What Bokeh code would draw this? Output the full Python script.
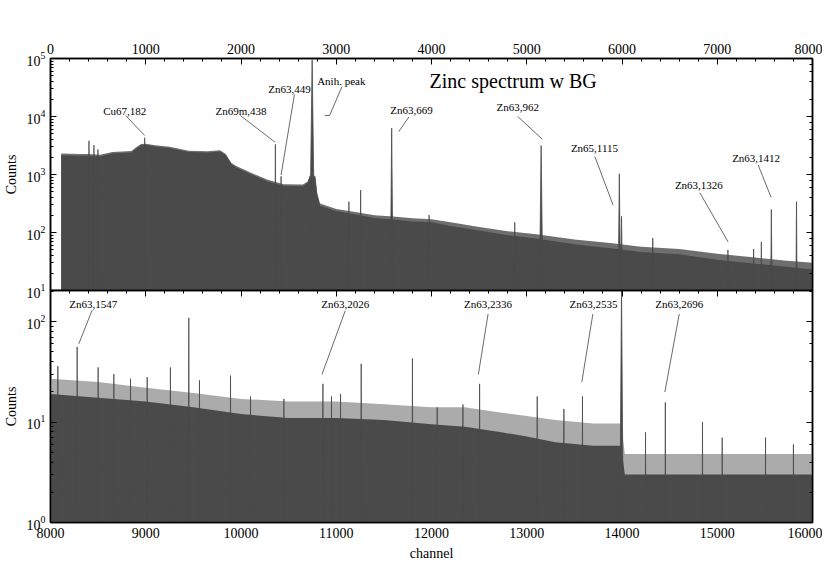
from bokeh.plotting import figure
from bokeh.models import ColumnDataSource, LogAxis, LinearAxis, SingleIntervalTicker, LogTicker
from bokeh.layouts import column
from bokeh.embed import file_html
from bokeh.resources import INLINE
from bokeh.core.properties import value

FONT = "Liberation Serif"

# ---------------- data ----------------
# top panel continuum: channel, dense level, upper noise level
top_ch = [112, 300, 400, 520, 650, 850, 900, 950, 1000, 1100, 1250, 1450, 1650, 1780, 1840,
          1900, 1950, 2100, 2280, 2450, 2650, 2700, 2720, 2780, 2800, 2830, 3000, 3200, 3400,
          3600, 3800, 4000, 4200, 4500, 4800, 5100, 5500, 5900, 6200, 6600, 7000, 7400, 7700, 8000]
top_dense = [2150, 2100, 2100, 2050, 2300, 2400, 2800, 3200, 3250, 3050, 2850, 2450, 2400, 2500, 2150,
             1500, 1320, 1020, 760, 640, 630, 720, 900, 900, 450, 290, 235, 205, 178,
             168, 155, 150, 130, 108, 90, 79, 63, 53, 46, 42, 34, 29, 26, 23]
top_noise = [2300, 2250, 2250, 2200, 2450, 2550, 2950, 3350, 3400, 3200, 3000, 2580, 2520, 2620, 2250,
             1580, 1400, 1080, 810, 680, 670, 760, 950, 950, 480, 315, 255, 225, 198,
             188, 176, 170, 150, 125, 105, 93, 76, 65, 57, 52, 43, 37, 33, 30]
# top panel peaks: channel, height, half width (channels)
top_pk_ch = [404, 456, 498, 989, 2361, 2421, 2747, 3133, 3256, 3582, 3975, 4874, 5151, 5972, 5995,
             6323, 7112, 7382, 7463, 7568, 7832, 7902]
top_pk_h = [3800, 3200, 2700, 4300, 3300, 930, 95000, 340, 540, 6300, 200, 150, 3150, 1030, 190,
            80, 50, 52, 69, 250, 340, 40]
top_pk_w = [8, 8, 8, 15, 10, 8, 40, 10, 10, 20, 8, 10, 25, 18, 20, 10, 10, 10, 12, 12, 10]

# bottom panel continuum
bot_ch = [8000, 8500, 9000, 9500, 10000, 10500, 11000, 11500, 12000, 12350, 12700, 13000,
          13300, 13700, 13990, 14030, 14500, 15000, 15500, 16000]
bot_dense = [19, 17.5, 16, 14, 12, 11, 11, 10.5, 9.5, 9, 8, 7.2, 6.3, 5.8, 5.8, 3, 3, 3, 3, 3]
bot_noise = [27, 25, 22, 19.5, 17, 16, 16, 15, 14, 14, 12.5, 11.5, 10.5, 9.7, 9.7, 4.8, 4.8, 4.8, 4.8, 4.8]
# bottom panel peaks and tallest noise spikes
bot_pk_ch = [8077, 8280, 8500, 8665, 8840, 9015, 9259, 9452, 9564, 9890, 10100, 10450, 10860,
             10950, 11045, 11262, 11800, 12060, 12330, 12505, 13110, 13390, 13585, 13995,
             14247, 14455, 14845, 15052, 15507, 15800]
bot_pk_h = [36, 56, 35, 30, 27, 28, 35, 109, 26, 29, 18, 17, 24, 18, 19, 38, 43, 14, 15, 24,
            18, 13.5, 18, 220, 7.9, 15.7, 10, 7, 7, 6]
bot_pk_w = [6, 6, 5, 5, 5, 5, 6, 8, 5, 6, 5, 5, 6, 5, 5, 8, 8, 5, 5, 8, 6, 5, 6, 25, 5, 6, 5,
            5, 5, 5]

# annotations: label, label x, label y, line start (x, y), line end (x, y)
top_lab = ["Cu67,182", "Zn69m,438", "Zn63,449", "Anih. peak", "Zn63,669", "Zn63,962",
           "Zn65,1115", "Zn63,1326", "Zn63,1412"]
top_lab_x = [779, 2000, 2509, 3053, 3790, 4906, 5711, 6807, 7408]
top_lab_y = [12600, 12600, 29500, 41000, 13100, 14400, 2840, 660, 1960]
top_ln_x0 = [789, 1993, 2561, 3060, 3762, 4906, 5715, 6817, 7429]
top_ln_y0 = [10400, 10400, 24000, 32700, 9800, 10000, 2040, 484, 1460]
top_ln_x1 = [989, 2358, 2421, 2930, 3657, 5162, 5907, 7114, 7566]
top_ln_y1 = [4700, 3600, 980, 10400, 5500, 4070, 296, 69, 403]
anih_tail_x = [2930, 2880]
anih_tail_y = [10400, 10400]

bot_lab = ["Zn63,1547", "Zn63,2026", "Zn63,2336", "Zn63,2535", "Zn63,2696"]
bot_lab_x = [8448, 11094, 12594, 13701, 14601]
bot_lab_y = [150, 150, 150, 150, 150]
bot_ln_x0 = [8437, 11094, 12594, 13694, 14601]
bot_ln_y0 = [130, 128, 119, 119, 119]
bot_ln_x1 = [8297, 10850, 12492, 13578, 14450]
bot_ln_y1 = [60, 29.8, 29.8, 25, 19.9]

title_text = "Zinc spectrum w BG"
title_x = [3980]
title_y = [40400]

DARK = "#4a4a4a"
MID = "#6e6e6e"
LIGHT = "#ababab"


def spikes(chs, hs, ws, floor):
    xs, ys = [], []
    for c, h, w in zip(chs, hs, ws):
        xs.append([c - w, c, c + w])
        ys.append([floor, h, floor])
    return xs, ys


def style_common(p):
    p.xgrid.visible = False
    p.ygrid.visible = False
    p.outline_line_color = "black"
    p.outline_line_width = 1.5
    p.background_fill_color = "white"


def style_axis(ax, labels=True):
    ax.axis_line_color = "black"
    ax.axis_line_width = 1.5
    ax.major_tick_in = 6
    ax.major_tick_out = 0
    ax.minor_tick_in = 3
    ax.minor_tick_out = 0
    ax.major_tick_line_color = "black"
    ax.minor_tick_line_color = "black"
    ax.major_label_text_font = FONT
    ax.major_label_text_font_size = "14px"
    ax.major_label_text_color = "black"
    ax.axis_label_text_font = FONT
    ax.axis_label_text_font_size = "14px"
    ax.axis_label_text_font_style = "normal"
    ax.axis_label_text_color = "black"
    if not labels:
        ax.major_label_text_font_size = "1px"
        ax.major_label_text_alpha = 0
        ax.major_label_standoff = 0


# ---------------- top panel ----------------
p1 = figure(frame_width=762, frame_height=232, x_range=(0, 8000), y_range=(10, 1e5),
            y_axis_type="log", x_axis_location="above",
            output_backend="svg", toolbar_location=None,
            min_border_left=50, min_border_right=10, min_border_top=58, min_border_bottom=14)
style_common(p1)
p1.border_fill_color = "white"

src1 = ColumnDataSource(dict(x=top_ch, d=top_dense, n=top_noise))
p1.varea(x="x", y1=1, y2="n", source=src1, fill_color=MID)
p1.varea(x="x", y1=1, y2="d", source=src1, fill_color=DARK)
xs, ys = spikes(top_pk_ch, top_pk_h, top_pk_w, 1)
p1.patches(xs, ys, fill_color=DARK, line_color=DARK, line_width=0.8)

p1.segment(x0=top_ln_x0, y0=top_ln_y0, x1=top_ln_x1, y1=top_ln_y1, line_color="#444444", line_width=0.8)
p1.line(anih_tail_x, anih_tail_y, line_color="#444444", line_width=0.8)
src_t1 = ColumnDataSource(dict(x=top_lab_x, y=top_lab_y, t=top_lab))
p1.text(x="x", y="y", text="t", source=src_t1, text_font=value(FONT), text_font_size="11px",
        text_align="center", text_baseline="middle", text_color="black")
p1.text(x=title_x, y=title_y, text=[title_text], text_font=value(FONT), text_font_size="20px",
        text_align="left", text_baseline="middle", text_color="black")

style_axis(p1.xaxis[0])
p1.xaxis[0].ticker = SingleIntervalTicker(interval=1000, num_minor_ticks=5)
style_axis(p1.yaxis[0])
p1.yaxis[0].axis_label = "Counts"
ra1 = LogAxis(ticker=LogTicker())
style_axis(ra1, labels=False)
p1.add_layout(ra1, "right")

# ---------------- bottom panel ----------------
p2 = figure(frame_width=762, frame_height=232, x_range=(8000, 16000), y_range=(1, 204),
            y_axis_type="log", output_backend="svg", toolbar_location=None,
            min_border_left=50, min_border_right=10, min_border_top=8, min_border_bottom=10)
style_common(p2)
p2.border_fill_color = None
p2.margin = (-22, 0, 0, 0)

src2 = ColumnDataSource(dict(x=bot_ch, d=bot_dense, n=bot_noise))
p2.varea(x="x", y1=0.1, y2="n", source=src2, fill_color=LIGHT)
p2.varea(x="x", y1=0.1, y2="d", source=src2, fill_color=DARK)
xs2, ys2 = spikes(bot_pk_ch, bot_pk_h, bot_pk_w, 0.1)
p2.patches(xs2, ys2, fill_color=DARK, line_color=DARK, line_width=0.8)

p2.segment(x0=bot_ln_x0, y0=bot_ln_y0, x1=bot_ln_x1, y1=bot_ln_y1, line_color="#444444", line_width=0.8)
src_t2 = ColumnDataSource(dict(x=bot_lab_x, y=bot_lab_y, t=bot_lab))
p2.text(x="x", y="y", text="t", source=src_t2, text_font=value(FONT), text_font_size="11px",
        text_align="center", text_baseline="middle", text_color="black")

style_axis(p2.xaxis[0])
p2.xaxis[0].ticker = SingleIntervalTicker(interval=1000, num_minor_ticks=5)
p2.xaxis[0].major_tick_in = 0
p2.xaxis[0].minor_tick_in = 0
p2.xaxis[0].axis_label = "channel"
style_axis(p2.yaxis[0])
p2.yaxis[0].axis_label = "Counts"
ta2 = LinearAxis(ticker=SingleIntervalTicker(interval=1000, num_minor_ticks=5))
style_axis(ta2, labels=False)
p2.add_layout(ta2, "above")
ra2 = LogAxis(ticker=LogTicker())
style_axis(ra2, labels=False)
p2.add_layout(ra2, "right")

layout = column(p1, p2, spacing=0)
open("out.html", "w").write(file_html(layout, INLINE))
